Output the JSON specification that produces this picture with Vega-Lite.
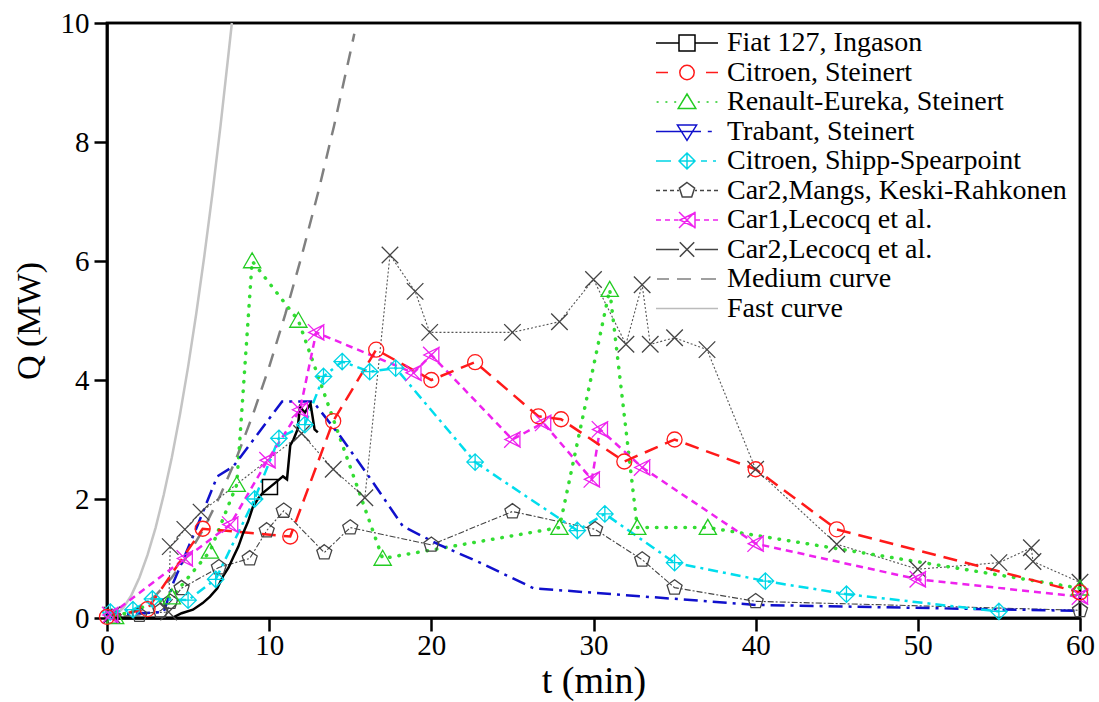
{
"$schema": "https://vega.github.io/schema/vega-lite/v6.json",
"width": 973, "height": 595,
"autosize": {"type": "none"},
"padding": {"left": 107, "top": 23, "right": 19, "bottom": 84},
"config": {
  "view": {"stroke": "#000000", "strokeWidth": 2.5},
  "axis": {"grid": false, "domainColor": "#000000", "domainWidth": 2.5, "tickColor": "#000000", "tickWidth": 2.5, "tickSize": 13,
    "labelFont": "Liberation Serif", "labelFontSize": 29, "labelColor": "#000000", "labelFlush": false,
    "titleFont": "Liberation Serif", "titleFontSize": 34, "titleFontWeight": "normal", "titleColor": "#000000"},
  "legend": {"labelFont": "Liberation Serif", "labelFontSize": 28, "labelColor": "#000000", "labelLimit": 600}
},
"datasets": {
  "frame": [{"t":0,"q":0},{"t":60,"q":0},{"t":60,"q":10},{"t":0,"q":10},{"t":0,"q":0}],
  "curves": [
    {"s":"Fiat 127, Ingason","t":0,"q":0},{"s":"Fiat 127, Ingason","t":4.0,"q":0},{"s":"Fiat 127, Ingason","t":4.6,"q":0.08},{"s":"Fiat 127, Ingason","t":5.3,"q":0.14},{"s":"Fiat 127, Ingason","t":5.9,"q":0.25},{"s":"Fiat 127, Ingason","t":6.35,"q":0.36},{"s":"Fiat 127, Ingason","t":6.8,"q":0.5},{"s":"Fiat 127, Ingason","t":7.15,"q":0.7},{"s":"Fiat 127, Ingason","t":7.5,"q":0.85},{"s":"Fiat 127, Ingason","t":7.8,"q":1.03},{"s":"Fiat 127, Ingason","t":8.1,"q":1.2},{"s":"Fiat 127, Ingason","t":8.4,"q":1.43},{"s":"Fiat 127, Ingason","t":8.7,"q":1.62},{"s":"Fiat 127, Ingason","t":9.0,"q":1.87},{"s":"Fiat 127, Ingason","t":9.3,"q":2.0},{"s":"Fiat 127, Ingason","t":9.6,"q":2.1},{"s":"Fiat 127, Ingason","t":10.05,"q":2.2},{"s":"Fiat 127, Ingason","t":10.5,"q":2.3},{"s":"Fiat 127, Ingason","t":10.85,"q":2.38},{"s":"Fiat 127, Ingason","t":11.1,"q":2.33},{"s":"Fiat 127, Ingason","t":11.3,"q":2.9},{"s":"Fiat 127, Ingason","t":11.5,"q":3.0},{"s":"Fiat 127, Ingason","t":11.75,"q":3.17},{"s":"Fiat 127, Ingason","t":11.9,"q":3.55},{"s":"Fiat 127, Ingason","t":12.2,"q":3.45},{"s":"Fiat 127, Ingason","t":12.55,"q":3.6},{"s":"Fiat 127, Ingason","t":12.8,"q":3.17},{"s":"Fiat 127, Ingason","t":13.0,"q":3.12},
    {"s":"Citroen, Steinert","t":0,"q":0.02},{"s":"Citroen, Steinert","t":2.5,"q":0.15},{"s":"Citroen, Steinert","t":5.9,"q":1.5},{"s":"Citroen, Steinert","t":11.3,"q":1.37},{"s":"Citroen, Steinert","t":13.95,"q":3.31},{"s":"Citroen, Steinert","t":16.6,"q":4.51},{"s":"Citroen, Steinert","t":20,"q":4.0},{"s":"Citroen, Steinert","t":22.7,"q":4.3},{"s":"Citroen, Steinert","t":26.6,"q":3.39},{"s":"Citroen, Steinert","t":28,"q":3.34},{"s":"Citroen, Steinert","t":31.9,"q":2.63},{"s":"Citroen, Steinert","t":35,"q":3.0},{"s":"Citroen, Steinert","t":40,"q":2.5},{"s":"Citroen, Steinert","t":45,"q":1.49},{"s":"Citroen, Steinert","t":60,"q":0.43},
    {"s":"Renault-Eureka, Steinert","t":0.5,"q":0.02},{"s":"Renault-Eureka, Steinert","t":4.0,"q":0.35},{"s":"Renault-Eureka, Steinert","t":6.35,"q":1.12},{"s":"Renault-Eureka, Steinert","t":8.0,"q":2.24},{"s":"Renault-Eureka, Steinert","t":8.95,"q":6.0},{"s":"Renault-Eureka, Steinert","t":11.8,"q":5.0},{"s":"Renault-Eureka, Steinert","t":17.0,"q":1.0},{"s":"Renault-Eureka, Steinert","t":27.9,"q":1.52},{"s":"Renault-Eureka, Steinert","t":31.0,"q":5.52},{"s":"Renault-Eureka, Steinert","t":32.7,"q":1.52},{"s":"Renault-Eureka, Steinert","t":37.05,"q":1.52},{"s":"Renault-Eureka, Steinert","t":60,"q":0.5},
    {"s":"Trabant, Steinert","t":0,"q":0.05},{"s":"Trabant, Steinert","t":3.5,"q":0.1},{"s":"Trabant, Steinert","t":4.1,"q":0.6},{"s":"Trabant, Steinert","t":5.5,"q":1.5},{"s":"Trabant, Steinert","t":6.8,"q":2.38},{"s":"Trabant, Steinert","t":7.8,"q":2.55},{"s":"Trabant, Steinert","t":10.8,"q":3.64},{"s":"Trabant, Steinert","t":12.7,"q":3.64},{"s":"Trabant, Steinert","t":14.4,"q":3.05},{"s":"Trabant, Steinert","t":16.4,"q":2.28},{"s":"Trabant, Steinert","t":18.25,"q":1.54},{"s":"Trabant, Steinert","t":20.5,"q":1.23},{"s":"Trabant, Steinert","t":23,"q":0.93},{"s":"Trabant, Steinert","t":26.3,"q":0.5},{"s":"Trabant, Steinert","t":40,"q":0.22},{"s":"Trabant, Steinert","t":60,"q":0.12},
    {"s":"Citroen, Shipp-Spearpoint","t":0.2,"q":0.1},{"s":"Citroen, Shipp-Spearpoint","t":1.6,"q":0.14},{"s":"Citroen, Shipp-Spearpoint","t":2.8,"q":0.32},{"s":"Citroen, Shipp-Spearpoint","t":5.0,"q":0.3},{"s":"Citroen, Shipp-Spearpoint","t":6.7,"q":0.65},{"s":"Citroen, Shipp-Spearpoint","t":9.1,"q":2.0},{"s":"Citroen, Shipp-Spearpoint","t":10.6,"q":3.02},{"s":"Citroen, Shipp-Spearpoint","t":12.2,"q":3.25},{"s":"Citroen, Shipp-Spearpoint","t":13.35,"q":4.06},{"s":"Citroen, Shipp-Spearpoint","t":14.5,"q":4.31},{"s":"Citroen, Shipp-Spearpoint","t":16.2,"q":4.14},{"s":"Citroen, Shipp-Spearpoint","t":17.8,"q":4.2},{"s":"Citroen, Shipp-Spearpoint","t":22.7,"q":2.62},{"s":"Citroen, Shipp-Spearpoint","t":29.0,"q":1.47},{"s":"Citroen, Shipp-Spearpoint","t":30.7,"q":1.75},{"s":"Citroen, Shipp-Spearpoint","t":35.0,"q":0.93},{"s":"Citroen, Shipp-Spearpoint","t":40.6,"q":0.62},{"s":"Citroen, Shipp-Spearpoint","t":45.6,"q":0.4},{"s":"Citroen, Shipp-Spearpoint","t":55.0,"q":0.11},
    {"s":"Car2,Mangs, Keski-Rahkonen","t":0.3,"q":0.02},{"s":"Car2,Mangs, Keski-Rahkonen","t":2.0,"q":0.05},{"s":"Car2,Mangs, Keski-Rahkonen","t":3.3,"q":0.12},{"s":"Car2,Mangs, Keski-Rahkonen","t":3.9,"q":0.27},{"s":"Car2,Mangs, Keski-Rahkonen","t":4.6,"q":0.5},{"s":"Car2,Mangs, Keski-Rahkonen","t":6.9,"q":0.85},{"s":"Car2,Mangs, Keski-Rahkonen","t":8.8,"q":1.0},{"s":"Car2,Mangs, Keski-Rahkonen","t":9.85,"q":1.47},{"s":"Car2,Mangs, Keski-Rahkonen","t":10.9,"q":1.8},{"s":"Car2,Mangs, Keski-Rahkonen","t":13.4,"q":1.1},{"s":"Car2,Mangs, Keski-Rahkonen","t":15.0,"q":1.52},{"s":"Car2,Mangs, Keski-Rahkonen","t":20.0,"q":1.23},{"s":"Car2,Mangs, Keski-Rahkonen","t":25.0,"q":1.79},{"s":"Car2,Mangs, Keski-Rahkonen","t":30.1,"q":1.49},{"s":"Car2,Mangs, Keski-Rahkonen","t":33.0,"q":0.98},{"s":"Car2,Mangs, Keski-Rahkonen","t":35.0,"q":0.51},{"s":"Car2,Mangs, Keski-Rahkonen","t":40.0,"q":0.28},{"s":"Car2,Mangs, Keski-Rahkonen","t":60,"q":0.13},
    {"s":"Car1,Lecocq et al.","t":0.2,"q":0.05},{"s":"Car1,Lecocq et al.","t":4.8,"q":1.0},{"s":"Car1,Lecocq et al.","t":7.6,"q":1.57},{"s":"Car1,Lecocq et al.","t":9.9,"q":2.65},{"s":"Car1,Lecocq et al.","t":11.9,"q":3.5},{"s":"Car1,Lecocq et al.","t":12.9,"q":4.8},{"s":"Car1,Lecocq et al.","t":18.9,"q":4.12},{"s":"Car1,Lecocq et al.","t":20,"q":4.42},{"s":"Car1,Lecocq et al.","t":25,"q":3.0},{"s":"Car1,Lecocq et al.","t":26.9,"q":3.28},{"s":"Car1,Lecocq et al.","t":29.9,"q":2.33},{"s":"Car1,Lecocq et al.","t":30.4,"q":3.17},{"s":"Car1,Lecocq et al.","t":33,"q":2.53},{"s":"Car1,Lecocq et al.","t":40,"q":1.25},{"s":"Car1,Lecocq et al.","t":50,"q":0.65},{"s":"Car1,Lecocq et al.","t":60,"q":0.36},
    {"s":"Car2,Lecocq et al.","t":0.3,"q":0.05},{"s":"Car2,Lecocq et al.","t":3.8,"q":0.1},{"s":"Car2,Lecocq et al.","t":3.9,"q":1.2},{"s":"Car2,Lecocq et al.","t":4.8,"q":1.49},{"s":"Car2,Lecocq et al.","t":5.8,"q":1.78},{"s":"Car2,Lecocq et al.","t":12.0,"q":3.1},{"s":"Car2,Lecocq et al.","t":13.95,"q":2.5},{"s":"Car2,Lecocq et al.","t":15.9,"q":2.02},{"s":"Car2,Lecocq et al.","t":17.45,"q":6.1},{"s":"Car2,Lecocq et al.","t":19.0,"q":5.49},{"s":"Car2,Lecocq et al.","t":19.9,"q":4.8},{"s":"Car2,Lecocq et al.","t":25,"q":4.8},{"s":"Car2,Lecocq et al.","t":27.9,"q":4.98},{"s":"Car2,Lecocq et al.","t":30,"q":5.69},{"s":"Car2,Lecocq et al.","t":32,"q":4.6},{"s":"Car2,Lecocq et al.","t":33,"q":5.6},{"s":"Car2,Lecocq et al.","t":33.5,"q":4.6},{"s":"Car2,Lecocq et al.","t":35,"q":4.71},{"s":"Car2,Lecocq et al.","t":37,"q":4.51},{"s":"Car2,Lecocq et al.","t":40,"q":2.5},{"s":"Car2,Lecocq et al.","t":45,"q":1.24},{"s":"Car2,Lecocq et al.","t":50,"q":0.82},{"s":"Car2,Lecocq et al.","t":55,"q":0.93},{"s":"Car2,Lecocq et al.","t":57,"q":1.18},{"s":"Car2,Lecocq et al.","t":57.1,"q":0.95},{"s":"Car2,Lecocq et al.","t":60,"q":0.6},
    {"s":"Medium curve","t":0,"q":0},{"s":"Medium curve","t":1,"q":0.04},{"s":"Medium curve","t":2,"q":0.17},{"s":"Medium curve","t":3,"q":0.38},{"s":"Medium curve","t":4,"q":0.68},{"s":"Medium curve","t":5,"q":1.06},{"s":"Medium curve","t":6,"q":1.52},{"s":"Medium curve","t":7,"q":2.07},{"s":"Medium curve","t":8,"q":2.7},{"s":"Medium curve","t":9,"q":3.42},{"s":"Medium curve","t":10,"q":4.22},{"s":"Medium curve","t":11,"q":5.11},{"s":"Medium curve","t":12,"q":6.08},{"s":"Medium curve","t":13,"q":7.13},{"s":"Medium curve","t":14,"q":8.27},{"s":"Medium curve","t":15,"q":9.5},{"s":"Medium curve","t":15.25,"q":9.82},
    {"s":"Fast curve","t":0,"q":0},{"s":"Fast curve","t":0.5,"q":0.04},{"s":"Fast curve","t":1,"q":0.17},{"s":"Fast curve","t":1.5,"q":0.38},{"s":"Fast curve","t":2,"q":0.68},{"s":"Fast curve","t":2.5,"q":1.06},{"s":"Fast curve","t":3,"q":1.52},{"s":"Fast curve","t":3.5,"q":2.07},{"s":"Fast curve","t":4,"q":2.7},{"s":"Fast curve","t":4.5,"q":3.42},{"s":"Fast curve","t":5,"q":4.22},{"s":"Fast curve","t":5.5,"q":5.11},{"s":"Fast curve","t":6,"q":6.08},{"s":"Fast curve","t":6.5,"q":7.13},{"s":"Fast curve","t":7,"q":8.27},{"s":"Fast curve","t":7.5,"q":9.5},{"s":"Fast curve","t":7.7,"q":10.0}
  ],
  "fiatMarks": [{"s":"Fiat 127, Ingason","t":10.05,"q":2.2}]
},
"encoding": {
  "x": {"field": "t", "type": "quantitative", "scale": {"domain": [0, 60], "nice": false},
        "axis": {"values": [0,10,20,30,40,50,60], "title": "t (min)", "labelPadding": 0, "titlePadding": 2, "titleFontSize": 38}},
  "y": {"field": "q", "type": "quantitative", "scale": {"domain": [0, 10], "nice": false},
        "axis": {"values": [0,2,4,6,8,10], "title": "Q (MW)", "labelPadding": 5, "titlePadding": 14}}
},
"layer": [
  {"data": {"name": "frame"}, "mark": {"type": "line", "color": "#000000", "strokeWidth": 2.5, "order": false}, "encoding": {}},
  {"data": {"name": "curves"}, "transform": [{"filter": "datum.s == 'Fast curve'"}], "mark": {"type": "line", "color": "#c4c4c4", "strokeWidth": 2.5}, "encoding": {}},
  {"data": {"name": "curves"}, "transform": [{"filter": "datum.s == 'Medium curve'"}], "mark": {"type": "line", "color": "#808080", "strokeWidth": 2.5, "strokeDash": [14, 10]}, "encoding": {}},
  {"data": {"name": "curves"}, "transform": [{"filter": "datum.s == 'Car2,Lecocq et al.'"}], "mark": {"type": "line", "color": "#555555", "strokeWidth": 1.1, "strokeDash": [2, 2]}, "encoding": {}},
  {"data": {"name": "curves"}, "transform": [{"filter": "datum.s == 'Car2,Mangs, Keski-Rahkonen'"}], "mark": {"type": "line", "color": "#444444", "strokeWidth": 1.1, "strokeDash": [6, 2, 2, 2]}, "encoding": {}},
  {"data": {"name": "curves"}, "transform": [{"filter": "datum.s == 'Renault-Eureka, Steinert'"}], "mark": {"type": "line", "color": "#33dd33", "strokeWidth": 3.5, "strokeCap": "round", "strokeDash": [0.5, 9]}, "encoding": {}},
  {"data": {"name": "curves"}, "transform": [{"filter": "datum.s == 'Trabant, Steinert'"}], "mark": {"type": "line", "color": "#1010cc", "strokeWidth": 2.5, "strokeDash": [14, 6, 3, 6]}, "encoding": {}},
  {"data": {"name": "curves"}, "transform": [{"filter": "datum.s == 'Citroen, Shipp-Spearpoint'"}], "mark": {"type": "line", "color": "#00dded", "strokeWidth": 2.5, "strokeDash": [10, 5, 3, 5]}, "encoding": {}},
  {"data": {"name": "curves"}, "transform": [{"filter": "datum.s == 'Car1,Lecocq et al.'"}], "mark": {"type": "line", "color": "#ee22ee", "strokeWidth": 2.5, "strokeDash": [7, 5]}, "encoding": {}},
  {"data": {"name": "curves"}, "transform": [{"filter": "datum.s == 'Citroen, Steinert'"}], "mark": {"type": "line", "color": "#ff1a1a", "strokeWidth": 2.5, "strokeDash": [14, 8]}, "encoding": {}},
  {"data": {"name": "curves"}, "transform": [{"filter": "datum.s == 'Fiat 127, Ingason'"}], "mark": {"type": "line", "color": "#000000", "strokeWidth": 2.5}, "encoding": {}},

  {"data": {"name": "curves"}, "transform": [{"filter": "datum.s == 'Car2,Lecocq et al.'"}], "mark": {"type": "point", "shape": "M-1.1,-1.1L1.1,1.1M-1.1,1.1L1.1,-1.1", "filled": false, "color": "#444444", "size": 225, "strokeWidth": 1.3, "opacity": 1}, "encoding": {}},
  {"data": {"name": "curves"}, "transform": [{"filter": "datum.s == 'Car2,Mangs, Keski-Rahkonen'"}], "mark": {"type": "point", "shape": "M0,-1.05L1,-0.32L0.62,0.85L-0.62,0.85L-1,-0.32Z", "filled": false, "color": "#444444", "size": 225, "strokeWidth": 1.3, "opacity": 1}, "encoding": {}},
  {"data": {"name": "curves"}, "transform": [{"filter": "datum.s == 'Renault-Eureka, Steinert'"}], "mark": {"type": "point", "shape": "M0,-1.1L1.15,0.9L-1.15,0.9Z", "filled": false, "color": "#22cc22", "size": 225, "strokeWidth": 1.3, "opacity": 1}, "encoding": {}},
  {"data": {"name": "curves"}, "transform": [{"filter": "datum.s == 'Citroen, Shipp-Spearpoint'"}], "mark": {"type": "point", "shape": "M0,-1.1L1.1,0L0,1.1L-1.1,0ZM0,-1.1L0,1.1M-1.1,0L1.1,0", "filled": false, "color": "#00d5e5", "size": 225, "strokeWidth": 1.3, "opacity": 1}, "encoding": {}},
  {"data": {"name": "curves"}, "transform": [{"filter": "datum.s == 'Car1,Lecocq et al.'"}], "mark": {"type": "point", "shape": "M-1.1,-1.1L1.1,1.1M-1.1,1.1L1.1,-1.1M1,-1L-1,0L1,1Z", "filled": false, "color": "#ee22ee", "size": 225, "strokeWidth": 1.3, "opacity": 1}, "encoding": {}},
  {"data": {"name": "curves"}, "transform": [{"filter": "datum.s == 'Citroen, Steinert'"}], "mark": {"type": "point", "shape": "M1,0A1,1 0 1,1 -1,0A1,1 0 1,1 1,0", "filled": false, "color": "#ff1a1a", "size": 225, "strokeWidth": 1.3, "opacity": 1}, "encoding": {}},
  {"data": {"name": "fiatMarks"}, "mark": {"type": "point", "shape": "M-1,-1L1,-1L1,1L-1,1Z", "filled": false, "color": "#000000", "size": 225, "strokeWidth": 1.5, "opacity": 1}, "encoding": {}},

  {"data": {"name": "curves"}, "transform": [{"filter": "false"}],
   "mark": {"type": "point", "filled": false, "size": 64, "strokeWidth": 1.6, "opacity": 1},
   "encoding": {
     "color": {"field": "s", "type": "nominal",
       "scale": {"domain": ["Fiat 127, Ingason","Citroen, Steinert","Renault-Eureka, Steinert","Trabant, Steinert","Citroen, Shipp-Spearpoint","Car2,Mangs, Keski-Rahkonen","Car1,Lecocq et al.","Car2,Lecocq et al.","Medium curve","Fast curve"],
                 "range": ["#000000","#ff1a1a","#22cc22","#1010cc","#00d5e5","#444444","#ee22ee","#444444","#808080","#bbbbbb"]},
       "legend": {"title": null, "orient": "none", "legendX": 566, "legendY": 6, "padding": 0, "labelOffset": 26, "rowPadding": 1.5, "symbolSize": 64}},
     "shape": {"field": "s", "type": "nominal",
       "scale": {"domain": ["Fiat 127, Ingason","Citroen, Steinert","Renault-Eureka, Steinert","Trabant, Steinert","Citroen, Shipp-Spearpoint","Car2,Mangs, Keski-Rahkonen","Car1,Lecocq et al.","Car2,Lecocq et al.","Medium curve","Fast curve"],
                 "range": [
                   "M-7.75,0L-2,0M2,0L7.75,0M-2,-2L2,-2L2,2L-2,2Z",
                   "M-7.75,0L-4.75,0M4.75,0L7.75,0M1.8,0A1.8,1.8 0 1,1 -1.8,0A1.8,1.8 0 1,1 1.8,0",
                   "M-7.6,0L-7.1,0M-5.4,0L-4.9,0M-3.2,0L-2.7,0M2.7,0L3.2,0M4.9,0L5.4,0M7.1,0L7.6,0M0,-2L2.2,1.6L-2.2,1.6Z",
                   "M-7.75,0L3.5,0M-2.4,-1.6L2.4,-1.6L0,2.2ZM5.2,0L6.2,0",
                   "M-7.75,0L-4,0M-2,0L2,0M0,-2L2,0L0,2L-2,0ZM0,-2L0,2M3.5,0L5,0M6.5,0L7.25,0",
                   "M-7.75,0L-6.75,0M-6,0L-5,0M-4.25,0L-3.25,0M-2.5,0L-2,0M2,0L2.5,0M3.25,0L4.25,0M5,0L6,0M6.75,0L7.75,0M0,-2L1.9,-0.62L1.18,1.62L-1.18,1.62L-1.9,-0.62Z",
                   "M-7.75,0L-6.5,0M-5.5,0L-4.25,0M-3.25,0L-2.2,0M2.2,0L3.25,0M4.25,0L5.5,0M6.5,0L7.75,0M-2,-2L2,2M-2,2L2,-2M2,-1.8L-1.8,0L2,1.8Z",
                   "M-7.75,0L-2,0M2,0L7.75,0M-1.8,-1.8L1.8,1.8M-1.8,1.8L1.8,-1.8",
                   "M-7.5,0L-4.5,0M-2.5,0L1,0M3.5,0L7.25,0",
                   "M-7.75,0L7.75,0"]},
       "legend": {"title": null, "orient": "none", "legendX": 566, "legendY": 6, "padding": 0, "labelOffset": 26, "rowPadding": 1.5, "symbolSize": 64}}
   }}
],
"resolve": {"scale": {"color": "independent", "shape": "independent"}}
}
